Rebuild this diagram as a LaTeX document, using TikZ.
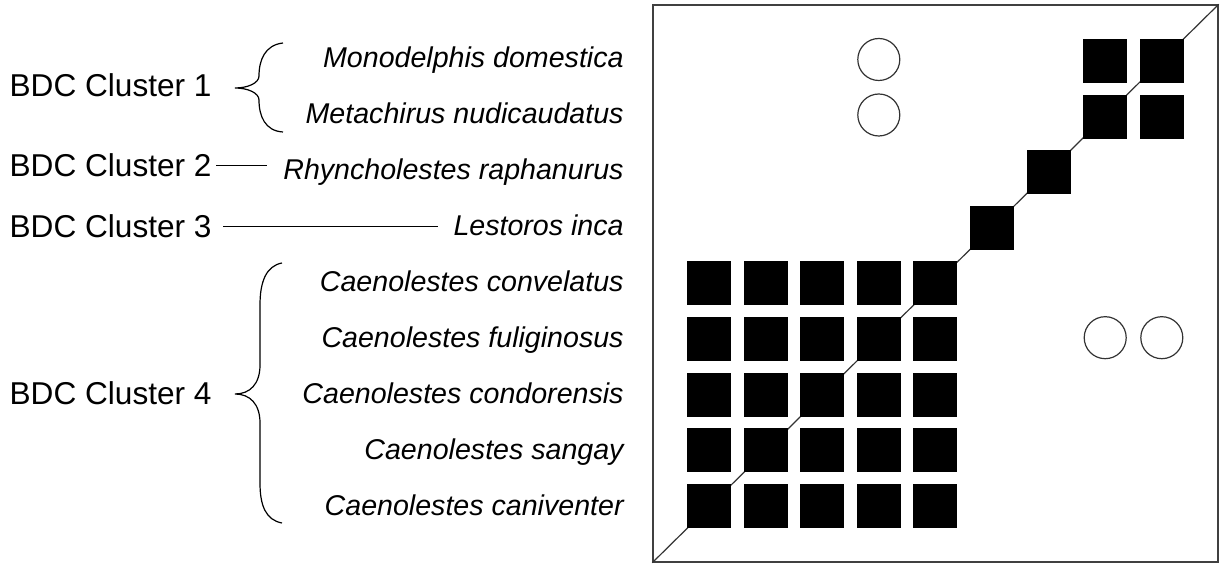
\documentclass[tikz,border=0pt]{standalone}
\usepackage{fontspec}
\setmainfont{Liberation Sans}

\begin{document}
\begin{tikzpicture}[
				x=0.5pt, y=-0.5pt,
				cluster/.style = {anchor=base east, inner sep=0pt, font=\fontsize{15.8}{19}\selectfont},
				species/.style = {anchor=base east, inner sep=0pt, font=\fontsize{14.3}{17}\selectfont\itshape},
				link/.style = {line width=0.6pt},
				cell/.style = {fill=black, inner sep=0pt, minimum size=22pt},
				ring/.style = {circle, draw=black!80, line width=0.6pt, inner sep=0pt, minimum size=21pt}
				]
				\useasboundingbox (0,0) rectangle (1220,565);
				
				\node[cluster] (c1) at (212,96.5) {BDC Cluster 1};
				\node[cluster] (c2) at (212,176.5) {BDC Cluster 2};
				\node[cluster] (c3) at (212,238) {BDC Cluster 3};
				\node[cluster] (c4) at (212,405) {BDC Cluster 4};
				
				\node[species] (sp0) at (624,67.6) {Monodelphis domestica};
				\node[species] (sp1) at (624,123.6) {Metachirus nudicaudatus};
				\node[species] (sp2) at (624,179.6) {Rhyncholestes raphanurus};
				\node[species] (sp3) at (624,235.6) {Lestoros inca};
				\node[species] (sp4) at (624,291.6) {Caenolestes convelatus};
				\node[species] (sp5) at (624,347.6) {Caenolestes fuliginosus};
				\node[species] (sp6) at (624,403.6) {Caenolestes condorensis};
				\node[species] (sp7) at (624,459.6) {Caenolestes sangay};
				\node[species] (sp8) at (624,515.6) {Caenolestes caniventer};
				
				\draw[link, shorten <=2pt, shorten >=8pt] (c2.east) -- (c2.east -| sp2.west);
				\draw[link, shorten <=5.5pt, shorten >=7.5pt] (c3.east) -- (c3.east -| sp3.west);
				
				% braces
				\draw[link] (283,43) .. controls (265,45) and (259,60) .. (259,76) .. controls (259,83) and (248,88) .. (235,88)
					.. controls (248,88) and (259,93) .. (259,100) .. controls (259,116) and (265,131) .. (283,132);
				\draw[link] (282,263) .. controls (266,266) and (260,282) .. (260,305) -- (260,365) .. controls (260,384) and (250,394) .. (235,394)
					.. controls (250,394) and (260,404) .. (260,423) -- (260,483) .. controls (260,506) and (266,520) .. (282,523);
				
				% matrix
				\node[draw=black!75, line width=0.7pt, minimum width=282.5pt, minimum height=278.5pt] (plot) at (935.5,283.5) {};
				\draw[link, black!80] (plot.south west) -- (plot.north east);
				
				\foreach \i in {0,...,4}
					\foreach \j in {4,...,8}
						\node[cell] (sq-\i-\j) at ({709+56.6*\i},{61+55.6*\j}) {};
				\node[cell] (sq-5-3) at (992,227.8) {};
				\node[cell] (sq-6-2) at (1048.6,172.2) {};
				\node[cell] (sq-7-0) at (1105.2,61) {};
				\node[cell] (sq-8-0) at (1161.8,61) {};
				\node[cell] (sq-7-1) at (1105.2,116.6) {};
				\node[cell] (sq-8-1) at (1161.8,116.6) {};
				
				\node[ring] (o-3-0) at (878.8,59.5) {};
				\node[ring] (o-3-1) at (878.8,115) {};
				\node[ring] (o-7-5) at (1105.2,337.7) {};
				\node[ring] (o-8-5) at (1161.8,337.7) {};
			\end{tikzpicture}
\end{document}
